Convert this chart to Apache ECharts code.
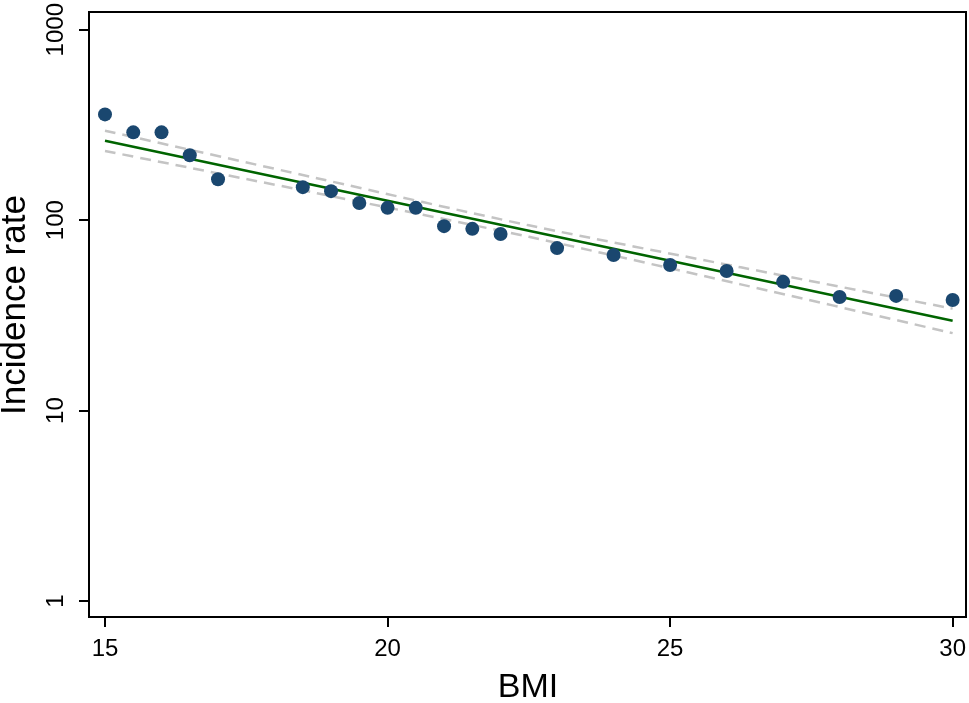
<!DOCTYPE html>
<html>
<head>
<meta charset="utf-8">
<script src="https://cdn.jsdelivr.net/npm/echarts@6/dist/echarts.min.js"></script>
<style>
html,body{margin:0;padding:0;background:#fff;}
#chart{width:969px;height:703px;}
</style>
</head>
<body>
<div id="chart"></div>
<script>
// Observed incidence rates by BMI
const bmi = [15, 15.5, 16, 16.5, 17, 18.5, 19, 19.5, 20, 20.5, 21, 21.5, 22, 23, 24, 25, 26, 27, 28, 29, 30];
const rate = [359, 289, 289, 219, 164, 149, 142, 123, 116, 116, 93, 90, 84.5, 71.3, 65.6, 58.1, 54.1, 47.4, 39.5, 40, 38.1];

// Fitted line and confidence band
const fitX = [15, 30];
const fitY = [261, 29.6];
const ciX = [15, 18.75, 22.5, 26.25, 30];
const ciUpper = [294.9, 166, 93.9, 56.5, 34.3];
const ciLower = [230.9, 138.5, 81.7, 46.0, 25.5];

const xTicks = [15, 20, 25, 30];
const yTicks = [1, 10, 100, 1000];

const FONT = "'Liberation Sans', Arial, Helvetica, sans-serif";

const zip = (a, b) => a.map((v, i) => [v, b[i]]);

const chart = echarts.init(document.getElementById('chart'), null, {renderer: 'canvas'});

chart.setOption({
  backgroundColor: '#ffffff',
  animation: false,
  grid: {left: 105, right: 16, top: 28, bottom: 102, containLabel: false},
  xAxis: {
    type: 'value',
    min: xTicks[0], max: xTicks[xTicks.length - 1], interval: 5,
    offset: 16,
    axisLine: {show: false},
    axisTick: {show: true, length: 10, lineStyle: {color: '#000', width: 2}},
    axisLabel: {fontFamily: FONT, fontSize: 24, color: '#000', margin: 20},
    splitLine: {show: false}
  },
  yAxis: {
    type: 'log', logBase: 10,
    min: yTicks[0], max: yTicks[yTicks.length - 1],
    offset: 16,
    axisLine: {show: false},
    axisTick: {show: true, length: 10, lineStyle: {color: '#000', width: 2}},
    axisLabel: {fontFamily: FONT, fontSize: 24, color: '#000', margin: 21, rotate: 90,
      formatter: v => String(Math.round(v))},
    splitLine: {show: false},
    minorTick: {show: false}
  },
  graphic: [
    {type: 'rect', shape: {x: 89, y: 12, width: 877, height: 605},
     style: {fill: 'none', stroke: '#000', lineWidth: 2}, z: 100},
    {type: 'text', x: 528, y: 688,
     style: {text: 'BMI', font: '34px ' + FONT, fill: '#000', textAlign: 'center', textVerticalAlign: 'middle'}},
    {type: 'text', x: 15, y: 305, rotation: Math.PI / 2,
     style: {text: 'Incidence rate', font: '35px ' + FONT, fill: '#000', textAlign: 'center', textVerticalAlign: 'middle'}}
  ],
  series: [
    {type: 'line', data: zip(ciX, ciUpper), smooth: 0.3, symbol: 'none', clip: false,
     lineStyle: {color: '#c4c4c4', width: 2.5, type: [11, 7]}, z: 2},
    {type: 'line', data: zip(ciX, ciLower), smooth: 0.3, symbol: 'none', clip: false,
     lineStyle: {color: '#c4c4c4', width: 2.5, type: [11, 7]}, z: 2},
    {type: 'line', data: zip(fitX, fitY), symbol: 'none', clip: false,
     lineStyle: {color: '#006400', width: 2.5}, z: 3},
    {type: 'scatter', data: zip(bmi, rate), symbol: 'circle', symbolSize: 14, clip: false,
     itemStyle: {color: '#1a476f', opacity: 1}, z: 4}
  ]
});
</script>
</body>
</html>
